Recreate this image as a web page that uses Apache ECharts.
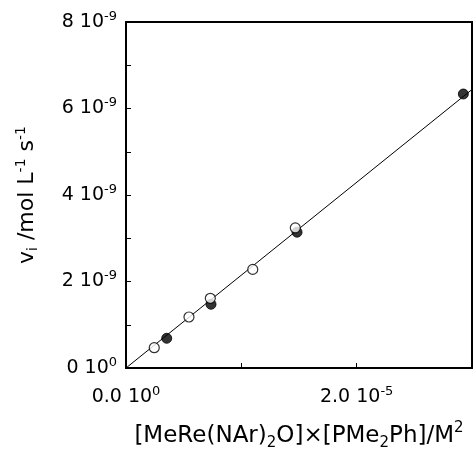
<!DOCTYPE html>
<html><head><meta charset="utf-8">
<script src="https://cdn.jsdelivr.net/npm/echarts@6/dist/echarts.min.js"></script>
<style>html,body{margin:0;padding:0;background:#fff}#c{width:476px;height:452px}</style>
</head><body><div id="c"></div>
<script>
// Data
const openX = [0.245e-5, 0.546e-5, 0.731e-5, 1.099e-5, 1.468e-5];
const openY = [0.469e-9, 1.179e-9, 1.612e-9, 2.28e-9, 3.24e-9];
const filledX = [0.353e-5, 0.737e-5, 1.483e-5, 2.925e-5];
const filledY = [0.687e-9, 1.473e-9, 3.14e-9, 6.335e-9];
const fitX = [0, 3.0e-5];
const fitY = [0, 6.44e-9];
// tick labels: [mantissa, exponent], null = unlabeled tick
const yTickLabels = [['0','0'], null, ['2','-9'], null, ['4','-9'], null, ['6','-9'], null, ['8','-9']];
const xTickLabels = [['0.0','0'], null, ['2.0','-5'], null];

const FONT = '"DejaVu Sans", "Liberation Sans", Arial, sans-serif';
const richTick = {
  m: {fontSize: 19, lineHeight: 24, fontFamily: FONT, color: '#000'},
  e: {fontSize: 13, lineHeight: 13, verticalAlign: 'top', fontFamily: FONT, color: '#000'}
};
function fmt(arr) {
  return function (v, i) {
    const t = arr[i];
    if (!t) return '';
    return '{m|' + t[0] + ' 10}{e|' + t[1] + '}';
  };
}
const zip = (a, b) => a.map((x, i) => [x, b[i]]);

const chart = echarts.init(document.getElementById('c'), null, {renderer: 'canvas'});
chart.setOption({
  backgroundColor: '#fff',
  animation: false,
  grid: {left: 126, right: 4, top: 22, bottom: 84, containLabel: false, outerBoundsMode: 'none',
         show: true, borderColor: '#000', borderWidth: 2, backgroundColor: 'transparent'},
  xAxis: {
    type: 'value', min: 0, max: 3e-5, interval: 1e-5,
    axisLine: {show: true, onZero: false, lineStyle: {color: '#000', width: 2}},
    axisTick: {show: true, inside: true, length: 5, lineStyle: {color: '#000', width: 1}},
    splitLine: {show: false},
    axisLabel: {formatter: fmt(xTickLabels), margin: 17, fontSize: 19, fontFamily: FONT, color: '#000', rich: richTick, showMaxLabel: true},
    name: '{n|[MeRe(NAr)}{s|2}{n|O]×[PMe}{s|2}{n|Ph]/M}{p|2}',
    nameLocation: 'middle', nameGap: 53,
    nameTextStyle: {
      fontSize: 23, fontFamily: FONT, color: '#000',
      rich: {
        n: {fontSize: 23, lineHeight: 30, fontFamily: FONT, color: '#000'},
        s: {fontSize: 15, lineHeight: 15, verticalAlign: 'bottom', fontFamily: FONT, color: '#000'},
        p: {fontSize: 15, lineHeight: 15, verticalAlign: 'top', fontFamily: FONT, color: '#000'}
      }
    }
  },
  yAxis: {
    type: 'value', min: 0, max: 8e-9, interval: 1e-9,
    axisLine: {show: true, onZero: false, lineStyle: {color: '#000', width: 2}},
    axisTick: {show: true, inside: true, length: 5, lineStyle: {color: '#000', width: 1}},
    splitLine: {show: false},
    axisLabel: {formatter: fmt(yTickLabels), margin: 9, fontSize: 19, fontFamily: FONT, color: '#000', rich: richTick},
    name: '{n|v}{s|i}{n| /mol L}{p|-1}{n| s}{p|-1}',
    nameLocation: 'middle', nameGap: 86, nameRotate: 90,
    nameTextStyle: {
      fontSize: 22, fontFamily: FONT, color: '#000',
      rich: {
        n: {fontSize: 22, lineHeight: 26, fontFamily: FONT, color: '#000'},
        s: {fontSize: 14, lineHeight: 14, verticalAlign: 'bottom', fontFamily: FONT, color: '#000'},
        p: {fontSize: 14, lineHeight: 14, verticalAlign: 'top', fontFamily: FONT, color: '#000'}
      }
    }
  },
  series: [
    {type: 'line', data: zip(fitX, fitY), showSymbol: false, symbol: 'none',
     lineStyle: {color: '#000', width: 1}, z: 1, silent: true},
    {type: 'scatter', data: zip(filledX, filledY), symbol: 'circle', symbolSize: 10,
     itemStyle: {color: '#000', borderColor: '#000', borderWidth: 1}, z: 2},
    {type: 'scatter', data: zip(openX, openY), symbol: 'circle', symbolSize: 10,
     itemStyle: {color: '#fff', borderColor: '#000', borderWidth: 1.2}, z: 3}
  ]
});
</script></body></html>
